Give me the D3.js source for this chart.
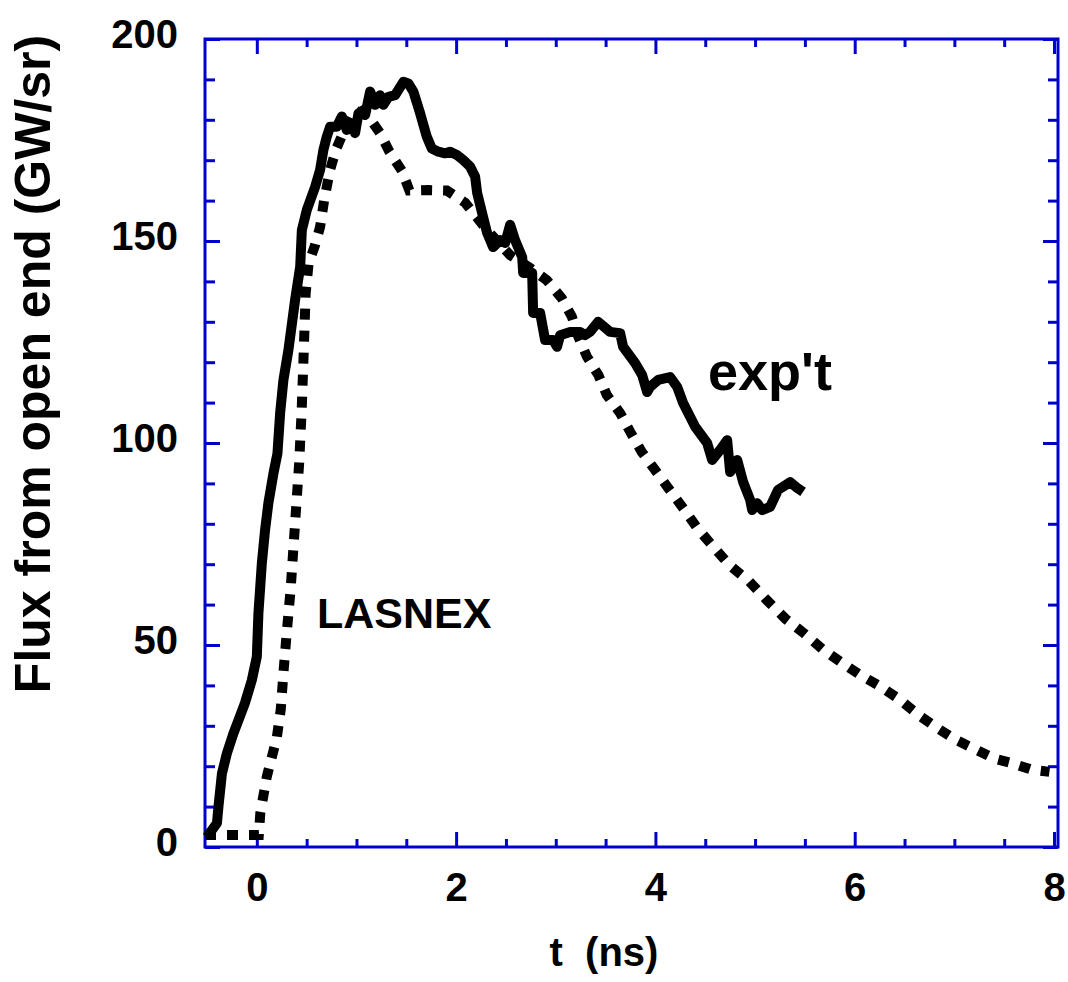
<!DOCTYPE html>
<html lang="en">
<head>
    <meta charset="UTF-8">
    <style>
        body { margin: 0; background: #fff; }
        text { font-family: "Liberation Sans", Arial, sans-serif; font-weight: bold; fill: #000; }
        .axis text { font-size: 40px; }
        .axis line { stroke: #0000cc; stroke-width: 3px; }
        .axis path { display: none; }
    </style>
    <script src="https://d3js.org/d3.v7.min.js"></script>
    <title>Flux from open end</title>
</head>
<body>
    <svg width="1068" height="982"></svg>
    <script>

        // experiment (solid)
        var expT = [-0.50,-0.40,-0.385,-0.35,-0.30,-0.235,-0.17,-0.12,-0.05,0.0,0.016,0.05,0.083,0.116,0.167,0.207,0.234,0.267,0.317,0.384,
            0.435,0.452,0.502,0.585,0.635,0.668,0.702,0.736,0.803,0.853,0.903,0.953,0.986,1.02,1.07,1.087,1.137,1.187,1.237,1.27,
            1.321,1.388,1.471,1.521,1.571,1.639,1.706,1.756,1.822,1.889,1.94,2.007,2.073,2.141,2.191,2.211,2.271,2.311,2.371,2.442,
            2.492,2.542,2.592,2.663,2.673,2.763,2.773,2.843,2.893,2.973,3.013,3.044,3.144,3.244,3.294,3.344,3.425,3.545,3.646,3.676,
            3.796,3.867,3.917,3.947,4.027,4.148,4.218,4.278,4.399,4.519,4.57,4.65,4.72,4.75,4.821,4.881,4.951,4.971,5.021,5.071,
            5.151,5.231,5.352,5.422,5.482];
        var expFlux = [2.5,5.9,10.0,18.2,23.2,28.1,32.3,35.6,41.3,47.1,57.8,70.1,78.5,85.1,92.5,97.4,107.4,115.6,123.0,135.4,
            143.6,152.7,157.7,163.4,167.6,172.5,175.8,178.3,178.3,180.8,177.5,179.1,176.7,181.6,182.4,181.2,187.0,183.7,186.1,183.7,
            185.7,186.1,189.4,189.0,187.0,181.6,175.8,172.9,172.1,171.7,172.1,171.3,170.0,168.4,165.9,161.9,155.9,152.0,148.5,150.2,
            149.5,154.0,150.2,146.0,142.1,142.1,132.2,132.2,125.5,125.5,123.8,126.7,127.5,127.5,126.7,127.5,130.0,127.5,127.2,123.8,
            119.8,116.8,112.6,113.9,115.6,116.3,113.9,109.9,104.0,100.0,95.8,98.3,100.7,92.8,95.8,90.3,85.9,83.4,85.1,83.4,
            84.2,88.4,90.3,88.9,87.9];

        // LASNEX (dotted)
        var lasT = [-0.52,0.02,0.035,0.10,0.20,0.24,0.27,0.30,0.34,0.37,0.40,0.425,0.45,0.47,0.49,0.52,0.585,0.635,0.675,0.736,
            0.796,0.886,0.969,1.104,1.237,1.331,1.455,1.531,1.722,1.907,2.09,2.30,2.542,2.726,2.91,3.061,3.161,3.227,3.312,3.428,
            3.512,3.646,3.746,3.863,3.997,4.13,4.281,4.421,4.582,4.743,4.943,5.118,5.309,5.492,5.68,5.871,6.054,6.245,6.446,6.639,
            6.83,7.018,7.208,7.399,7.583,7.767,7.954];
        var lasFlux = [3.0,3.0,8.4,17.4,27.0,34,44,53,64,75,86,95,108,122,137,144.5,149.0,153.5,160,167.7,
            172.7,177.9,182.3,181.4,176.7,172.1,167.4,162.5,162.6,162.5,159.5,153,146.5,143.6,140.3,135.8,131.3,126.3,121.4,116.8,
            111.9,107.4,102.8,97.8,93.3,88.8,83.8,78.9,74.3,69.8,65.7,61.1,56.4,52.9,48.9,45.6,42.6,39.9,36.6,32.7,
            29.4,26.5,24.2,21.9,20.7,19.2,18.6];

        var xMajor = [0, 2, 4, 6, 8];
        var yMajor = [0, 50, 100, 150, 200];

        var svg = d3.select("svg");
        var plotLeft = 205, plotRight = 1058, plotTop = 39, plotBottom = 847;

        var x = d3.scaleLinear().domain([-0.52, 8.04]).range([plotLeft, plotRight]);
        var y = d3.scaleLinear().domain([0, 200]).range([plotBottom, plotTop]);

        var xMinor = d3.range(0, 8.01, 0.5).filter(function(d) { return xMajor.indexOf(d) < 0; });
        var yMinor = d3.range(10, 200, 10).filter(function(d) { return yMajor.indexOf(d) < 0; });

        // ticks point inward on all four sides
        svg.append("g").attr("class", "axis").attr("transform", "translate(0," + plotBottom + ")")
            .call(d3.axisBottom(x).tickValues(xMajor).tickSize(-15).tickPadding(26).tickFormat(d3.format("d")));
        svg.append("g").attr("class", "axis").attr("transform", "translate(0," + plotBottom + ")")
            .call(d3.axisBottom(x).tickValues(xMinor).tickSize(-8).tickFormat(""));
        svg.append("g").attr("class", "axis").attr("transform", "translate(0," + plotTop + ")")
            .call(d3.axisTop(x).tickValues(xMajor).tickSize(-15).tickFormat(""));
        svg.append("g").attr("class", "axis").attr("transform", "translate(0," + plotTop + ")")
            .call(d3.axisTop(x).tickValues(xMinor).tickSize(-8).tickFormat(""));

        svg.append("g").attr("class", "axis").attr("transform", "translate(" + plotLeft + ",0)")
            .call(d3.axisLeft(y).tickValues(yMajor).tickSize(-15).tickPadding(27).tickFormat(d3.format("d")))
            .selectAll("text").attr("dy", "0.22em");
        svg.append("g").attr("class", "axis").attr("transform", "translate(" + plotLeft + ",0)")
            .call(d3.axisLeft(y).tickValues(yMinor).tickSize(-10).tickFormat(""));
        svg.append("g").attr("class", "axis").attr("transform", "translate(" + plotRight + ",0)")
            .call(d3.axisRight(y).tickValues(yMajor).tickSize(-15).tickFormat(""));
        svg.append("g").attr("class", "axis").attr("transform", "translate(" + plotRight + ",0)")
            .call(d3.axisRight(y).tickValues(yMinor).tickSize(-10).tickFormat(""));

        svg.append("rect")
            .attr("x", plotLeft).attr("y", plotTop)
            .attr("width", plotRight - plotLeft).attr("height", plotBottom - plotTop)
            .attr("fill", "none").attr("stroke", "#0000cc").attr("stroke-width", 3);

        var line = d3.line()
            .x(function(d) { return x(d[0]); })
            .y(function(d) { return y(d[1]); });

        svg.append("path")
            .datum(d3.zip(lasT, lasFlux))
            .attr("d", line)
            .attr("fill", "none")
            .attr("stroke", "#000")
            .attr("stroke-width", 10)
            .attr("stroke-dasharray", "11 11");

        svg.append("path")
            .datum(d3.zip(expT, expFlux))
            .attr("d", line)
            .attr("fill", "none")
            .attr("stroke", "#000")
            .attr("stroke-width", 10)
            .attr("stroke-linejoin", "round");

        // labels
        svg.append("text").attr("x", 317).attr("y", 628).style("font-size", "43px").text("LASNEX");
        svg.append("text").attr("x", 708).attr("y", 390).style("font-size", "54px").text("exp't");

        svg.append("text")
            .attr("x", 604).attr("y", 966)
            .attr("text-anchor", "middle")
            .style("font-size", "40px")
            .attr("xml:space", "preserve")
            .text("t  (ns)");

        svg.append("text")
            .attr("transform", "translate(50,364) rotate(-90)")
            .attr("text-anchor", "middle")
            .style("font-size", "50px")
            .text("Flux from open end (GW/sr)");

    </script>
</body>
</html>
